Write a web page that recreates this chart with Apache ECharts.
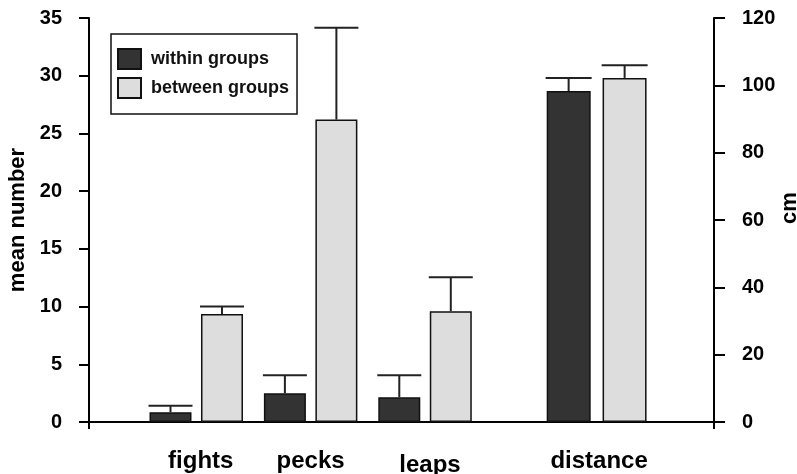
<!DOCTYPE html>
<html>
<head>
<meta charset="utf-8">
<script src="https://cdn.jsdelivr.net/npm/echarts@6/dist/echarts.min.js"></script>
<style>
  html, body { margin: 0; padding: 0; background: #fff; }
  #main { width: 797px; height: 474px; }
</style>
</head>
<body>
<div id="main"></div>
<script>
// data
var categories = ['fights', 'pecks', 'leaps', 'distance'];
var withinMean = [0.85, 2.5, 2.15, 98.3];
var withinErr = [0.55, 1.55, 1.9, 3.9];
var betweenMean = [9.35, 26.2, 9.6, 102.2];
var betweenErr = [0.65, 7.95, 2.95, 3.8];
var leftScale = { min: 0, max: 35, interval: 5 };
var rightScale = { min: 0, max: 120, interval: 20 };

// layout: slot of each category on the (hidden) x value axis, distance sits apart
var slots = [1, 2, 3, 4.5];
var xMin = 0.0625, xMax = 5.526;
var FONT = '"Liberation Sans", Arial, Helvetica, sans-serif';
// small hand nudges of the category labels, as in the original figure
var labelRich = {
  c0: { padding: [0, 0, 0, 9] },
  c1: { padding: [0, 0, 0, 0] },
  c2: { padding: [4, 0, 0, 10] },
  c3: { padding: [0, 0, 0, 5] }
};

var myChart = echarts.init(document.getElementById('main'));

function pairs(vals, from, to) {
  var out = [];
  for (var i = from; i < to; i++) out.push([slots[i], vals[i]]);
  return out;
}
function errRows(from, to) {
  var out = [];
  for (var i = from; i < to; i++) {
    out.push([slots[i], withinMean[i], withinErr[i], -1]);
    out.push([slots[i], betweenMean[i], betweenErr[i], 1]);
  }
  return out;
}

// error bar: stem up from the bar top plus a cap as wide as the bar
function errRender(off, half) {
  return function (params, api) {
    var x = api.value(0), m = api.value(1), e = api.value(2), s = api.value(3);
    var p0 = api.coord([x, m]);
    var p1 = api.coord([x, m + e]);
    var cx = p0[0] + s * off;
    return {
      type: 'group',
      children: [
        { type: 'line', shape: { x1: cx, y1: p0[1], x2: cx, y2: p1[1] },
          style: { stroke: '#222', lineWidth: 2 } },
        { type: 'line', shape: { x1: cx - half, y1: p1[1], x2: cx + half, y2: p1[1] },
          style: { stroke: '#222', lineWidth: 2 } }
      ]
    };
  };
}

var darkStyle = { color: '#333333', borderColor: '#111', borderWidth: 1.5 };
var lightStyle = { color: '#dddddd', borderColor: '#111', borderWidth: 1.5 };
var axisLine = { show: true, lineStyle: { color: '#000', width: 2 } };

var option = {
  animation: false,
  grid: { left: 89, right: 83, top: 18, bottom: 52, outerBoundsMode: 'none' },
  legend: {
    data: ['within groups', 'between groups'],
    orient: 'vertical',
    left: 111,
    top: 34,
    icon: 'rect',
    itemWidth: 23,
    itemHeight: 20,
    itemGap: 7,
    padding: [14, 8, 15, 6],
    borderColor: '#111',
    borderWidth: 1.5,
    textStyle: { fontSize: 18, fontWeight: 'bold', color: '#111', fontFamily: FONT },
    formatter: function (n) { return ' ' + n; }
  },
  xAxis: [
    {
      type: 'value', min: xMin, max: xMax,
      axisLine: axisLine,
      splitLine: { show: false },
      axisTick: { show: true, customValues: [xMin, xMax], length: 7,
        lineStyle: { color: '#000', width: 2 } },
      axisLabel: {
        customValues: slots,
        margin: 27,
        fontSize: 24, fontWeight: 'bold', color: '#000', fontFamily: FONT,
        rich: labelRich,
        formatter: function (v) {
          var i = slots.indexOf(v);
          return i < 0 ? '' : '{c' + i + '|' + categories[i] + '}';
        }
      }
    },
    { type: 'value', min: xMin, max: xMax, show: false }
  ],
  yAxis: [
    {
      type: 'value', position: 'left',
      min: leftScale.min, max: leftScale.max, interval: leftScale.interval,
      name: 'mean number', nameLocation: 'middle', nameRotate: 90, nameGap: 60,
      nameMoveOverlap: false,
      nameTextStyle: { fontSize: 22, fontWeight: 'bold', color: '#000', fontFamily: FONT },
      axisLine: axisLine,
      axisTick: { show: true, length: 10, lineStyle: { color: '#000', width: 2 } },
      splitLine: { show: false },
      axisLabel: { margin: 27, fontSize: 20, fontWeight: 'bold', color: '#000', fontFamily: FONT }
    },
    {
      type: 'value', position: 'right',
      min: rightScale.min, max: rightScale.max, interval: rightScale.interval,
      name: 'cm', nameLocation: 'middle', nameRotate: 90, nameGap: 65,
      nameMoveOverlap: false,
      nameTextStyle: { fontSize: 22, fontWeight: 'bold', color: '#000', fontFamily: FONT,
        padding: [0, 0, 0, 24] },
      axisLine: axisLine,
      axisTick: { show: true, length: 11, lineStyle: { color: '#000', width: 2 } },
      splitLine: { show: false },
      axisLabel: { margin: 28, fontSize: 20, fontWeight: 'bold', color: '#000', fontFamily: FONT }
    }
  ],
  series: [
    { name: 'within groups', type: 'bar', xAxisIndex: 0, yAxisIndex: 0,
      barWidth: 42, barGap: '22.6%', itemStyle: darkStyle,
      data: pairs(withinMean, 0, 3) },
    { name: 'between groups', type: 'bar', xAxisIndex: 0, yAxisIndex: 0,
      barWidth: 42, barGap: '22.6%', itemStyle: lightStyle,
      data: pairs(betweenMean, 0, 3) },
    { name: 'within groups', type: 'bar', xAxisIndex: 1, yAxisIndex: 1,
      barWidth: 44, barGap: '27%', itemStyle: darkStyle,
      data: pairs(withinMean, 3, 4) },
    { name: 'between groups', type: 'bar', xAxisIndex: 1, yAxisIndex: 1,
      barWidth: 44, barGap: '27%', itemStyle: lightStyle,
      data: pairs(betweenMean, 3, 4) },
    { type: 'custom', xAxisIndex: 0, yAxisIndex: 0, z: 5, clip: false,
      renderItem: errRender(25.75, 22), encode: { x: 0, y: 1 },
      data: errRows(0, 3) },
    { type: 'custom', xAxisIndex: 1, yAxisIndex: 1, z: 5, clip: false,
      renderItem: errRender(28, 23), encode: { x: 0, y: 1 },
      data: errRows(3, 4) }
  ]
};

myChart.setOption(option);
</script>
</body>
</html>
